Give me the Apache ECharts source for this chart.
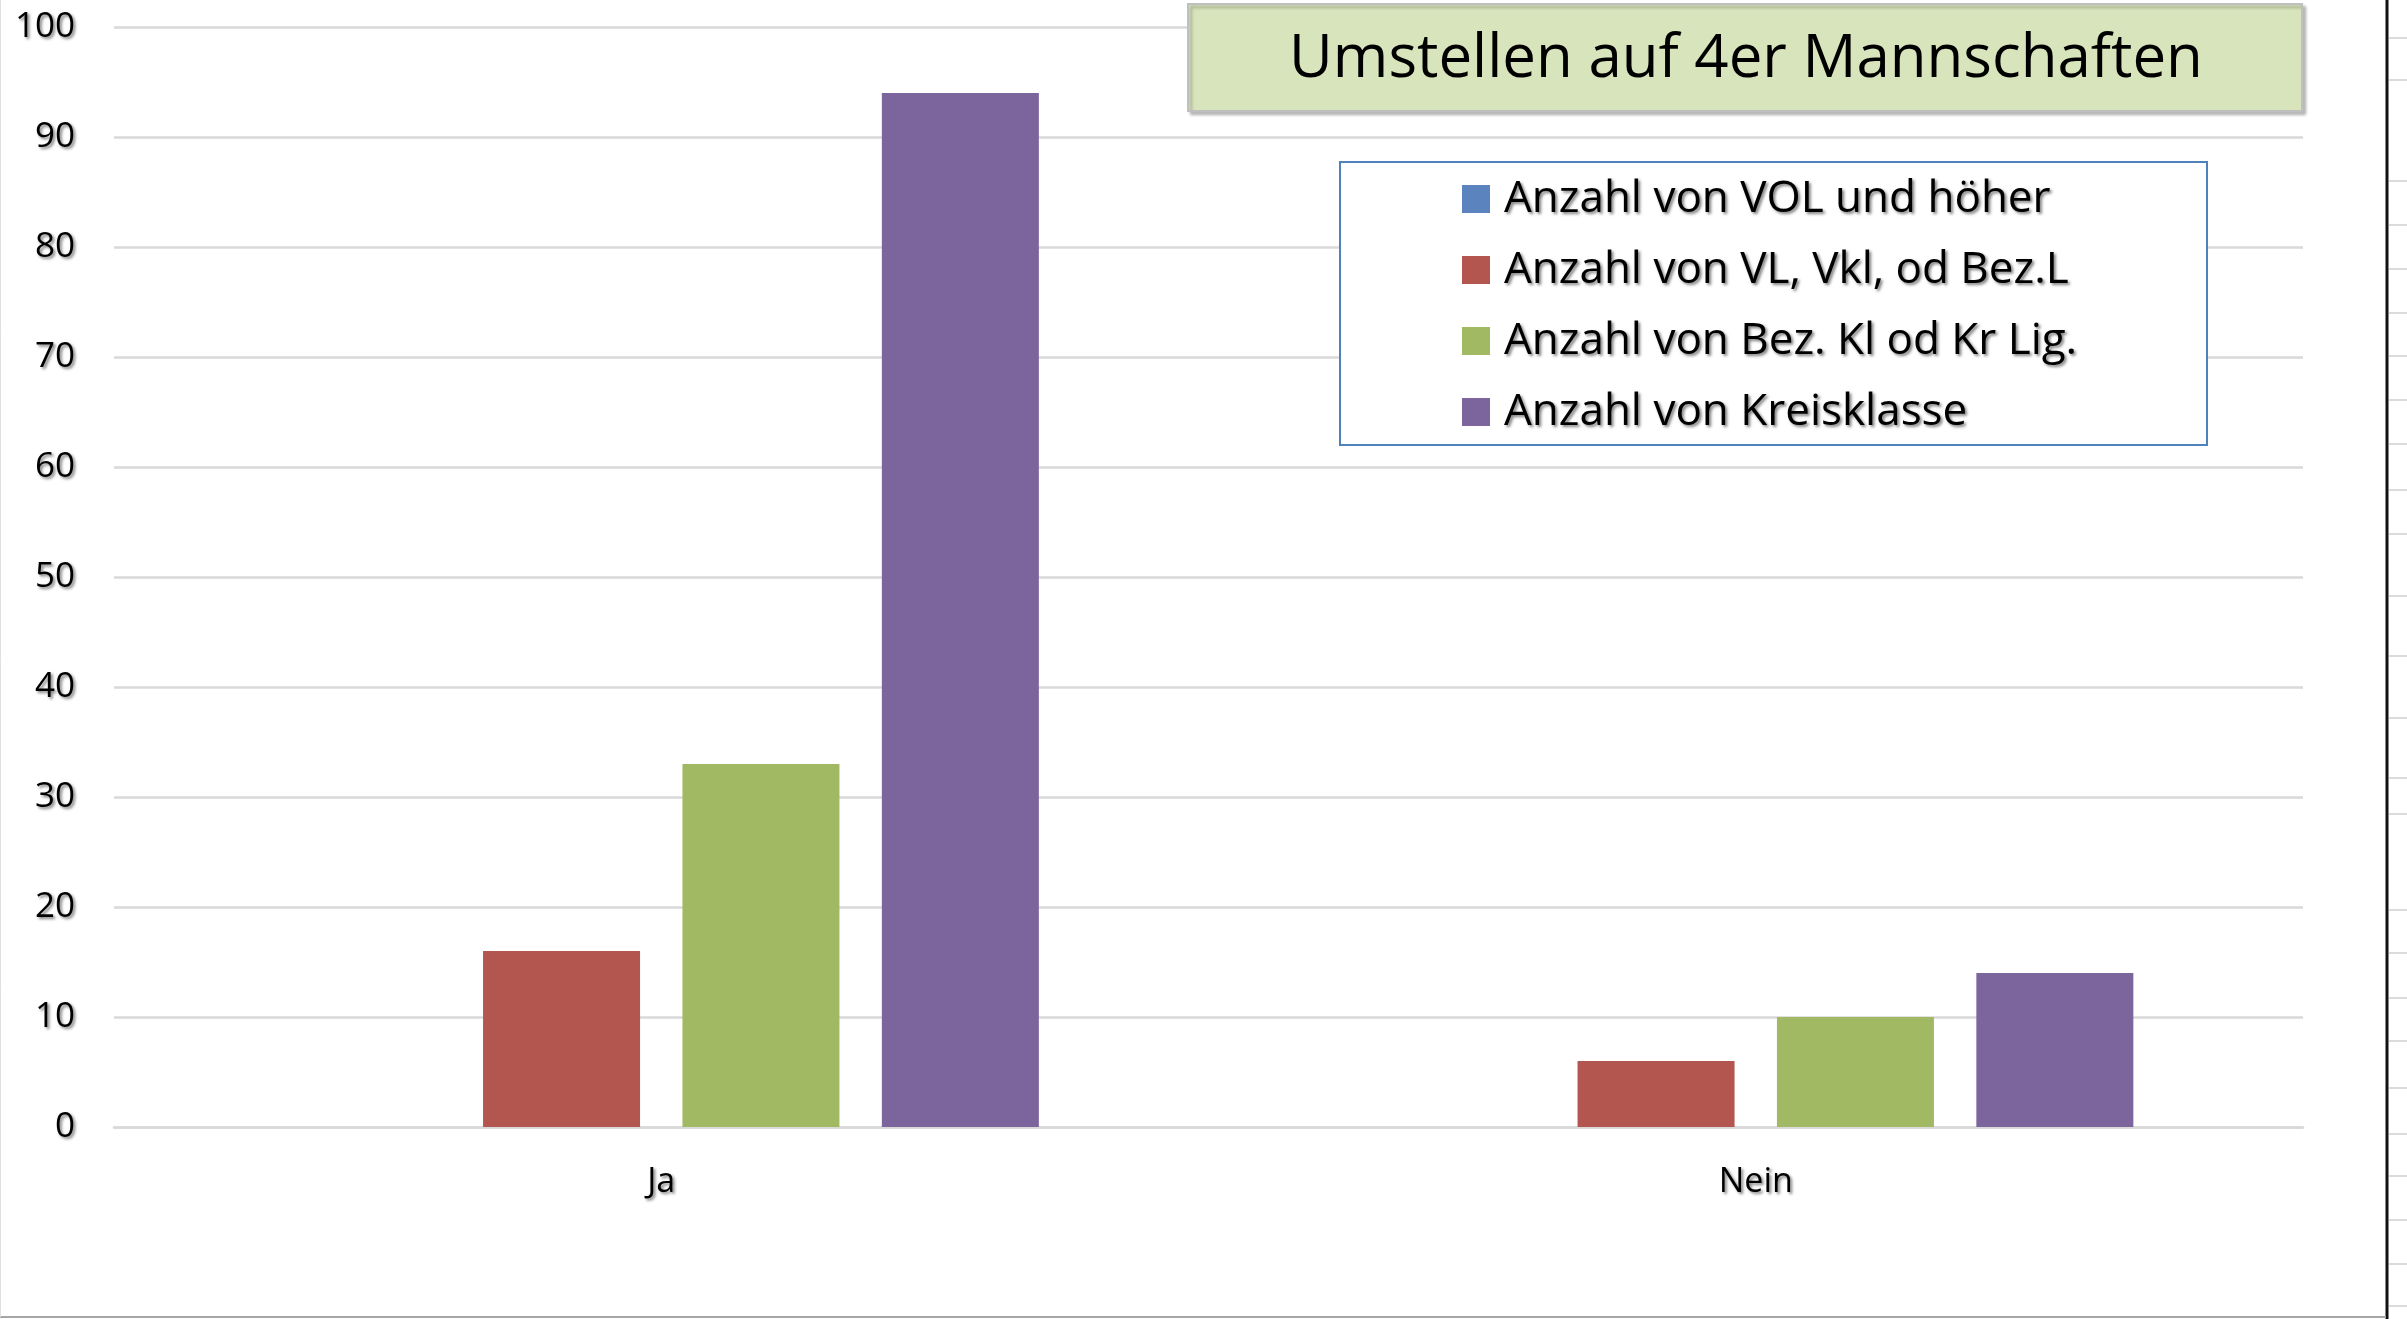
<!DOCTYPE html>
<html>
<head>
<meta charset="utf-8">
<title>Umstellen auf 4er Mannschaften</title>
<script src="https://cdn.jsdelivr.net/npm/echarts@6.0.0/dist/echarts.min.js"></script>
<style>
  html, body { margin: 0; padding: 0; background: #fff; }
  #chart { width: 2407px; height: 1319px; }
</style>
</head>
<body>
<div id="chart"></div>
<script>
// Kategorien und Werte
var categories = ['Ja', 'Nein'];
var seriesNames = [
    'Anzahl von VOL und höher',
    'Anzahl von VL, Vkl, od Bez.L',
    'Anzahl von Bez. Kl od Kr Lig.',
    'Anzahl von Kreisklasse'
];
var volUndHoeher = [0, 0];
var vlVklBezL = [16, 6];
var bezKlKrLig = [33, 10];
var kreisklasse = [94, 14];
var colors = ['#5b83be', '#b35650', '#a2b964', '#7c649d'];
var yTicks = [0, 100, 10]; // min, max, interval

// Zeilenlinien rechts (Tabellenrand)
var sheetRows = [38, 80, 181, 225, 269, 313, 356, 400, 444, 490, 534, 596, 656, 718, 778, 814,
                 910, 953, 998, 1041, 1088, 1134, 1176, 1220, 1264, 1306];

var font = '"Open Sans", "Noto Sans", sans-serif';
var shadow = {
    textShadowColor: 'rgba(0,0,0,0.5)',
    textShadowBlur: 3,
    textShadowOffsetX: 2,
    textShadowOffsetY: 2
};

var myChart = echarts.init(document.getElementById('chart'));

var allValues = [volUndHoeher, vlVklBezL, bezKlKrLig, kreisklasse];
var series = [];
for (var i = 0; i < seriesNames.length; i++) {
    series.push({
        name: seriesNames[i],
        type: 'bar',
        data: allValues[i],
        barGap: '27%',
        barCategoryGap: '31%',
        itemStyle: { color: colors[i] },
        z: 3
    });
}

var graphics = [
    // Titelkasten
    {
        type: 'rect',
        shape: { x: 1188, y: 4, width: 1114, height: 107 },
        style: {
            fill: '#d8e4bc', stroke: '#bfbfbf', lineWidth: 2,
            shadowColor: 'rgba(0,0,0,0.25)', shadowBlur: 3, shadowOffsetX: 3, shadowOffsetY: 3
        },
        z: 10
    },
    {
        type: 'text',
        style: {
            text: 'Umstellen auf 4er Mannschaften',
            x: 1746, y: 60,
            align: 'center', verticalAlign: 'middle',
            font: '60px ' + font,
            fill: '#000',
            shadowColor: 'rgba(0,0,0,0.5)', shadowBlur: 3, shadowOffsetX: 2, shadowOffsetY: 2
        },
        z: 11
    },
    // Legendenrahmen
    {
        type: 'rect',
        shape: { x: 1340, y: 162, width: 867, height: 283 },
        style: { fill: '#fff', stroke: '#4f81bd', lineWidth: 2 },
        z: 10
    },
    // Blattränder
    {
        type: 'line',
        shape: { x1: 2387, y1: 0, x2: 2387, y2: 1319 },
        style: { stroke: '#111', lineWidth: 3 },
        z: 10
    },
    {
        type: 'line',
        shape: { x1: 0, y1: 1317, x2: 2386, y2: 1317 },
        style: { stroke: '#a6a6a6', lineWidth: 2 },
        z: 10
    },
    {
        type: 'line',
        shape: { x1: 0.5, y1: 0, x2: 0.5, y2: 1317 },
        style: { stroke: '#e0e0e0', lineWidth: 1 },
        z: 10
    }
];
for (var r = 0; r < sheetRows.length; r++) {
    graphics.push({
        type: 'line',
        shape: { x1: 2389, y1: sheetRows[r], x2: 2407, y2: sheetRows[r] },
        style: { stroke: '#cfcfcf', lineWidth: 1.5 },
        z: 10
    });
}

var option = {
    backgroundColor: '#fff',
    animation: false,
    textStyle: { fontFamily: font },
    grid: { left: 114, right: 104, top: 27, bottom: 192, containLabel: false },
    legend: {
        orient: 'vertical',
        left: 1462,
        top: 177,
        padding: 0,
        itemWidth: 28,
        itemHeight: 28,
        itemGap: 27,
        icon: 'rect',
        selectedMode: false,
        z: 12,
        textStyle: Object.assign({
            fontFamily: font, fontSize: 44, color: '#000', lineHeight: 44,
            padding: [0, 0, 0, 9]
        }, shadow),
        data: seriesNames
    },
    xAxis: {
        type: 'category',
        data: categories,
        axisLine: { lineStyle: { color: '#d9d9d9', width: 2.5 } },
        axisTick: { show: false },
        axisLabel: Object.assign({
            fontSize: 34, color: '#000', margin: 38, fontFamily: font
        }, shadow)
    },
    yAxis: {
        type: 'value',
        min: yTicks[0],
        max: yTicks[1],
        interval: yTicks[2],
        axisLine: { show: false },
        axisTick: { show: false },
        splitLine: { lineStyle: { color: '#d9d9d9', width: 2.5 } },
        axisLabel: Object.assign({
            fontSize: 35, color: '#000', margin: 39, fontFamily: font
        }, shadow)
    },
    graphic: graphics,
    series: series
};

myChart.setOption(option);
</script>
</body>
</html>
